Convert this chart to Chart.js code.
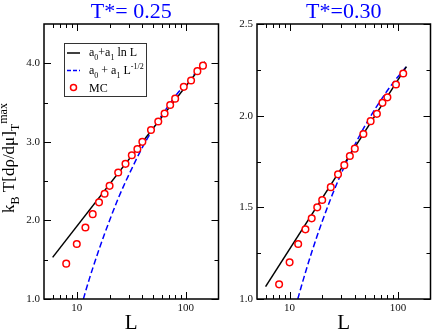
<!DOCTYPE html>
<html>
<head>
<meta charset="utf-8">
<script src="https://cdn.jsdelivr.net/npm/chart.js@4/dist/chart.umd.min.js"></script>
<style>
  html, body { margin: 0; padding: 0; background: #fff; }
  #wrap { position: relative; width: 436px; height: 331px; }
  #left { position: absolute; left: 0; top: 0; }
  #right { position: absolute; left: 224px; top: 0; }
</style>
</head>
<body>
<div id="wrap">
  <canvas id="left" width="224" height="331"></canvas>
  <canvas id="right" width="212" height="331"></canvas>
</div>
<script>
// ---- data ----
const mcLeftL = [8, 10, 12, 14, 16, 18, 20, 24, 28, 32, 36, 40, 48, 56, 64, 72, 80, 96, 112, 128, 144];
const mcLeftY = [1.45, 1.70, 1.91, 2.08, 2.23, 2.34, 2.44, 2.61, 2.72, 2.83, 2.91, 3.00, 3.15, 3.26, 3.36, 3.47, 3.55, 3.70, 3.78, 3.90, 3.97];
const lnLeftL = [6, 150];
const lnLeftY = [1.53, 4.02];
const sqLeftL = [11.5, 12, 13, 14, 16, 18, 20, 24, 28, 32, 40, 50, 64, 80, 100, 125, 150];
const sqLeftY = [1.0, 1.09, 1.25, 1.39, 1.63, 1.83, 2.00, 2.28, 2.49, 2.66, 2.93, 3.16, 3.39, 3.58, 3.74, 3.89, 4.00];

const mcRightL = [8, 10, 12, 14, 16, 18, 20, 24, 28, 32, 36, 40, 48, 56, 64, 72, 80, 96, 112];
const mcRightY = [1.08, 1.20, 1.30, 1.38, 1.44, 1.50, 1.54, 1.61, 1.68, 1.73, 1.78, 1.82, 1.90, 1.97, 2.01, 2.07, 2.10, 2.17, 2.23];
const lnRightL = [6, 120];
const lnRightY = [1.067, 2.267];
const sqRightL = [11.9, 13, 14, 16, 18, 20, 24, 28, 32, 40, 48, 56, 64, 80, 96, 112, 120];
const sqRightY = [1.0, 1.08, 1.145, 1.255, 1.346, 1.423, 1.548, 1.644, 1.722, 1.841, 1.929, 1.997, 2.052, 2.137, 2.199, 2.247, 2.268];

const xLabels = [10, 100];
const xMinor = [6, 7, 8, 9, 20, 30, 40, 50, 60, 70, 80, 90];
const yLabelsLeft = [1, 2, 3, 4];
const yMinorLeft = [1.5, 2.5, 3.5];
const yLabelsRight = [1, 1.5, 2, 2.5];
const yMinorRight = [1.25, 1.75, 2.25];

const SERIF = '"Liberation Serif", "Times New Roman", serif';
const pts = (xs, ys) => xs.map((x, i) => ({ x: x, y: ys[i] }));

// text with sub/superscripts, parts = [[text, 'sub'|'sup'|null], ...]
function drawRich(ctx, parts, x, y, size) {
  parts.forEach(([t, s]) => {
    const fs = s ? Math.round(size * 0.68) : size;
    ctx.font = fs + 'px ' + SERIF;
    const dy = s === 'sub' ? size * 0.3 : s === 'sup' ? -size * 0.42 : 0;
    ctx.fillText(t, x, y + dy);
    x += ctx.measureText(t).width;
  });
  return x;
}
function richWidth(ctx, parts, size) {
  let w = 0;
  parts.forEach(([t, s]) => {
    ctx.font = (s ? Math.round(size * 0.68) : size) + 'px ' + SERIF;
    w += ctx.measureText(t).width;
  });
  return w;
}

// box frame with inward ticks on all four sides, plus titles / legend
const panelPlugin = {
  id: 'panel',
  afterDraw(chart, args, o) {
    const { ctx, chartArea: a, scales: { x, y } } = chart;
    ctx.save();
    ctx.strokeStyle = '#000';
    ctx.lineWidth = 1;
    const seg = (x1, y1, x2, y2) => { ctx.beginPath(); ctx.moveTo(x1, y1); ctx.lineTo(x2, y2); ctx.stroke(); };
    const xt = (v, len) => { const p = Math.round(x.getPixelForValue(v)) + 0.5; seg(p, a.bottom, p, a.bottom - len); seg(p, a.top, p, a.top + len); };
    const yt = (v, len) => { const p = Math.round(y.getPixelForValue(v)) + 0.5; seg(a.left, p, a.left + len, p); seg(a.right, p, a.right - len, p); };
    xLabels.forEach(v => xt(v, 7));
    xMinor.forEach(v => xt(v, 4));
    o.yMajor.forEach(v => yt(v, 7));
    o.yMinor.forEach(v => yt(v, 4));
    ctx.lineWidth = 1.5;
    ctx.strokeRect(a.left, a.top, a.right - a.left, a.bottom - a.top);

    // panel title
    ctx.fillStyle = '#0000ff';
    ctx.font = '22px ' + SERIF;
    ctx.textAlign = 'center';
    ctx.textBaseline = 'alphabetic';
    ctx.fillText(o.title, (a.left + a.right) / 2, 18);

    // x axis title
    ctx.fillStyle = '#000';
    ctx.font = '21px ' + SERIF;
    ctx.fillText('L', (a.left + a.right) / 2, 329);
    ctx.textAlign = 'left';

    if (o.ylabel) {
      const parts = [['k', null], ['B', 'sub'], [' T[d\u03c1/d\u03bc]', null], ['T', 'sub'], ['max', 'sup']];
      const size = 17;
      const w = richWidth(ctx, parts, size);
      ctx.save();
      ctx.translate(14, 158);
      ctx.rotate(-Math.PI / 2);
      drawRich(ctx, parts, -w / 2, 0, size);
      ctx.restore();
    }

    if (o.legend) {
      const lx = a.left + 20, ly = a.top + 19;
      ctx.fillStyle = '#fff';
      ctx.fillRect(lx, ly, 82, 53);
      ctx.strokeStyle = '#333';
      ctx.lineWidth = 1;
      ctx.strokeRect(lx + 0.5, ly + 0.5, 82, 53);
      ctx.fillStyle = '#000';
      const size = 12;
      // entry 1
      ctx.strokeStyle = '#000'; ctx.lineWidth = 1.5; ctx.setLineDash([]);
      seg(lx + 3, ly + 10, lx + 16, ly + 10);
      drawRich(ctx, [['a', null], ['0', 'sub'], ['+a', null], ['1', 'sub'], [' ln L', null]], lx + 25, ly + 13, size);
      // entry 2
      ctx.strokeStyle = '#0000ff'; ctx.setLineDash([4, 2]);
      seg(lx + 3, ly + 27.5, lx + 16, ly + 27.5);
      ctx.setLineDash([]);
      drawRich(ctx, [['a', null], ['0', 'sub'], [' + a', null], ['1', 'sub'], [' L', null], ['-1/2', 'sup']], lx + 25, ly + 31, size);
      // entry 3
      ctx.strokeStyle = '#ff0000'; ctx.lineWidth = 1.5;
      ctx.beginPath(); ctx.arc(lx + 9.5, ly + 44.5, 3, 0, Math.PI * 2); ctx.stroke();
      ctx.font = size + 'px ' + SERIF;
      ctx.fillText('MC', lx + 25, ly + 48.5);
    }
    ctx.restore();
  }
};

function makePanel(canvas, cfg) {
  return new Chart(canvas.getContext('2d'), {
    type: 'scatter',
    data: {
      datasets: [
        {
          label: 'MC', data: pts(cfg.mcL, cfg.mcY), order: 0,
          pointStyle: 'circle', pointRadius: 3.3, pointBorderWidth: 1.5,
          borderColor: '#ff0000', pointBackgroundColor: '#ffffff', showLine: false
        },
        {
          label: 'a0+a1 ln L', data: pts(cfg.lnL, cfg.lnY), order: 1,
          showLine: true, borderColor: '#000000', borderWidth: 1.5, pointRadius: 0
        },
        {
          label: 'a0 + a1 L^-1/2', data: pts(cfg.sqL, cfg.sqY), order: 2,
          showLine: true, borderColor: '#0000ff', borderWidth: 1.5, borderDash: [6, 3],
          pointRadius: 0, cubicInterpolationMode: 'monotone'
        }
      ]
    },
    options: {
      responsive: false,
      animation: false,
      layout: { padding: { top: 24, right: cfg.padRight, left: 0, bottom: 0 } },
      plugins: {
        legend: { display: false },
        tooltip: { enabled: false },
        panel: { title: cfg.title, yMajor: cfg.yLabels, yMinor: cfg.yMinor, ylabel: cfg.ylabel, legend: cfg.legend }
      },
      scales: {
        x: {
          type: 'logarithmic', min: 5, max: 200,
          grid: { display: false, drawTicks: false },
          border: { display: false },
          afterBuildTicks: s => { s.ticks = xLabels.map(v => ({ value: v })); },
          afterFit: s => { s.height = 32; },
          ticks: {
            autoSkip: false, maxRotation: 0, padding: 3, color: '#111',
            font: { family: SERIF, size: 11 },
            callback: v => String(v)
          }
        },
        y: {
          type: 'linear', min: cfg.yMin, max: cfg.yMax,
          grid: { display: false, drawTicks: false },
          border: { display: false },
          afterBuildTicks: s => { s.ticks = cfg.yLabels.map(v => ({ value: v })); },
          afterFit: s => { s.width = cfg.yWidth; },
          ticks: {
            autoSkip: false, padding: 4, color: '#111',
            font: { family: SERIF, size: 11 },
            callback: v => Number(v).toFixed(1)
          }
        }
      }
    },
    plugins: [panelPlugin]
  });
}

makePanel(document.getElementById('left'), {
  mcL: mcLeftL, mcY: mcLeftY, lnL: lnLeftL, lnY: lnLeftY, sqL: sqLeftL, sqY: sqLeftY,
  yMin: 1, yMax: 4.5, yLabels: yLabelsLeft, yMinor: yMinorLeft,
  title: 'T*= 0.25', ylabel: true, legend: true, yWidth: 44, padRight: 4
});
makePanel(document.getElementById('right'), {
  mcL: mcRightL, mcY: mcRightY, lnL: lnRightL, lnY: lnRightY, sqL: sqRightL, sqY: sqRightY,
  yMin: 1, yMax: 2.5, yLabels: yLabelsRight, yMinor: yMinorRight,
  title: 'T*=0.30', ylabel: false, legend: false, yWidth: 33, padRight: 1
});
</script>
</body>
</html>
